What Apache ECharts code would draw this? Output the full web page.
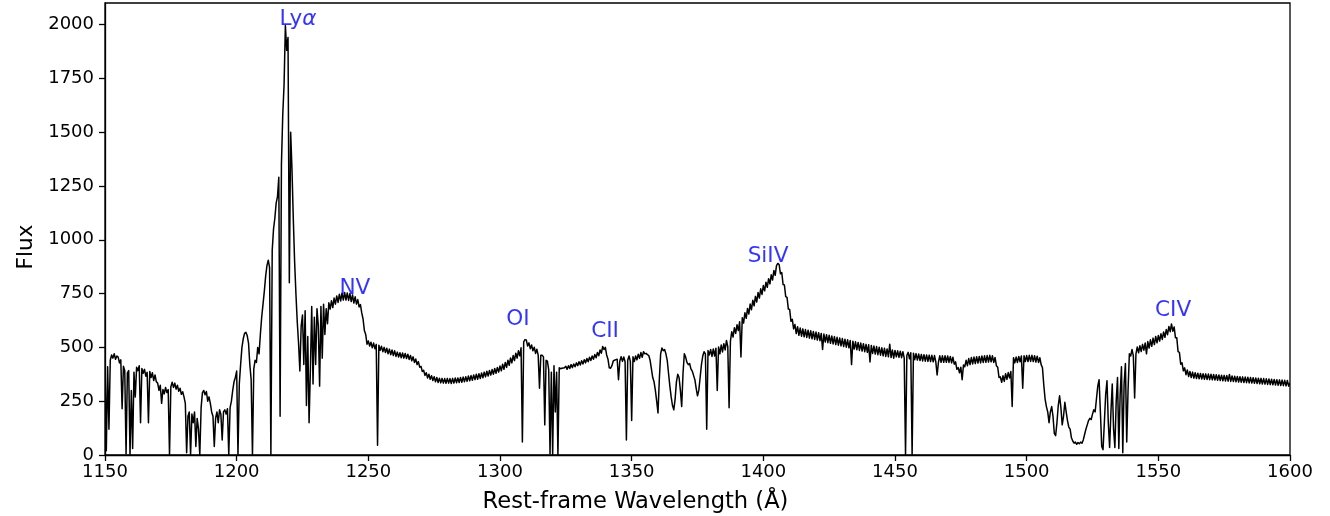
<!DOCTYPE html>
<html>
<head>
<meta charset="utf-8">
<script src="https://cdn.jsdelivr.net/npm/echarts@6/dist/echarts.min.js"></script>
<style>
  html, body { margin: 0; padding: 0; background: #fff; }
  #chart { width: 1330px; height: 516px; }
</style>
</head>
<body>
<div id="chart"></div>
<script>
// Rest-frame quasar spectrum, sampled every 0.5 Å. Each block holds 50 Å of flux.
const WAVE_STEP = 0.5;

const flux1150 = [
  430, 20, 410, 120, 440, 465, 450, 470, 445, 460,
  455, 428, 442, 215, 412, 392, 5, 382, 392, 0,
  300, 30, 384, 270, 408, 392, 415, 150, 402, 380,
  398, 366, 384, 150, 388, 360, 382, 346, 372, 340,
  334, 300, 324, 240, 304, 284, 314, 290, 304, 0,
  316, 338, 314, 334, 306, 324, 296, 310, 282, 294,
  270, 240, 10, 180, 200, 0, 190, 150, 200, 40,
  170, 120, 0, 220, 290, 300, 280, 295, 250, 270,
  240, 200, 180, 40, 170, 200, 150, 210, 190, 70,
  200, 210, 190, 215, 0, 220, 250, 300, 340, 360
];

const flux1200 = [
  390, 0, 330, 420, 500, 540, 565, 570, 555, 520,
  420, 350, 0, 400, 440, 430, 500, 470, 560, 640,
  700, 760, 830, 880, 905, 870, 0, 950, 1050, 1100,
  1170, 1200, 1290, 180, 1350, 1580, 1720, 1995, 1880, 1940,
  800, 1500, 1330, 1100, 900, 750, 620, 520, 390, 600,
  650, 420, 670, 230, 550, 150, 400, 690, 330, 640,
  420, 680, 600, 320, 690, 450, 700, 560, 680, 610,
  707, 678, 717, 685, 729, 701, 739, 709, 747, 716,
  752, 720, 755, 720, 753, 718, 750, 713, 744, 706,
  735, 701, 722, 688, 699, 660, 632, 578, 560, 515
];

const flux1250 = [
  530, 506, 524, 498, 520, 494, 514, 45, 510, 486,
  505, 480, 500, 476, 496, 470, 492, 466, 488, 462,
  484, 458, 478, 455, 475, 452, 474, 450, 472, 448,
  468, 444, 462, 438, 456, 430, 446, 420, 434, 408,
  412, 388, 394, 370, 382, 358, 375, 352, 368, 346,
  364, 340, 360, 337, 357, 335, 356, 334, 355, 333,
  356, 334, 355, 332, 356, 334, 358, 336, 358, 337,
  360, 338, 362, 340, 364, 342, 367, 345, 369, 347,
  372, 350, 375, 352, 378, 355, 381, 359, 385, 363,
  389, 367, 393, 371, 397, 375, 402, 380, 407, 385
];

const flux1300 = [
  414, 391, 422, 398, 430, 407, 440, 417, 451, 428,
  462, 439, 473, 450, 484, 461, 498, 60, 526, 536,
  534, 506, 521, 494, 511, 484, 501, 472, 491, 464,
  310, 464, 464, 456, 140, 440, 436, 395, 5, 385,
  0, 415, 200, 385, 0, 405, 401, 403, 404, 405,
  412, 398, 415, 402, 420, 406, 423, 410, 428, 415,
  433, 418, 438, 423, 443, 428, 448, 433, 454, 439,
  460, 445, 467, 452, 476, 461, 488, 473, 504, 490,
  500, 465, 445, 405, 403, 415, 437, 440, 443, 445,
  350, 437, 457, 435, 455, 433, 70, 440, 460, 435
];

const flux1350 = [
  160, 456, 434, 460, 442, 468, 449, 476, 454, 480,
  470, 472, 466, 462, 440, 400, 360, 340, 300, 250,
  195, 350, 470, 497, 485, 490, 470, 440, 380, 320,
  270, 230, 210, 260, 340, 375, 360, 300, 225, 380,
  470, 455, 430, 420, 425, 400, 390, 370, 350, 310,
  275, 300, 360, 420, 460, 480, 470, 120, 485, 465,
  490, 458, 493, 460, 496, 300, 502, 470, 511, 479,
  517, 488, 532, 503, 220, 528, 573, 548, 591, 565,
  605, 578, 619, 455, 638, 613, 661, 635, 681, 655,
  701, 675, 719, 693, 737, 711, 755, 729, 772, 746
];

const flux1400 = [
  787, 763, 803, 779, 819, 795, 837, 813, 857, 835,
  880, 890, 885, 842, 848, 792, 790, 736, 732, 678,
  676, 621, 630, 586, 606, 564, 596, 556, 590, 552,
  586, 549, 583, 546, 580, 543, 577, 540, 574, 537,
  571, 534, 568, 531, 565, 490, 562, 525, 559, 522,
  556, 519, 553, 516, 550, 513, 547, 510, 544, 507,
  541, 504, 538, 501, 535, 498, 532, 420, 529, 492,
  526, 489, 523, 486, 520, 483, 517, 480, 514, 477,
  512, 432, 509, 472, 506, 469, 504, 466, 501, 464,
  498, 461, 496, 458, 493, 456, 515, 453, 488, 450
];

const flux1450 = [
  486, 456, 484, 454, 482, 452, 480, 450, 0, 462,
  477, 447, 475, 0, 473, 443, 471, 441, 469, 439,
  467, 437, 466, 436, 465, 435, 464, 434, 463, 433,
  462, 432, 372, 431, 461, 431, 461, 431, 461, 431,
  460, 430, 458, 428, 454, 422, 433, 398, 406, 382,
  408, 350, 418, 410, 440, 415, 448, 420, 453, 423,
  455, 425, 457, 427, 458, 428, 460, 430, 461, 431,
  462, 432, 463, 433, 461, 430, 453, 415, 408, 360,
  363, 338, 368, 342, 378, 352, 383, 358, 388, 225,
  452, 428, 455, 430, 458, 433, 460, 310, 461, 434
];

const flux1500 = [
  462, 434, 463, 435, 463, 434, 461, 432, 459, 430,
  452, 420, 405, 325, 260, 225, 200, 150, 200, 225,
  180, 100, 90, 150, 230, 275, 220, 140, 180, 245,
  200, 160, 130, 120, 80, 65, 55, 60, 50, 58,
  52, 60, 55, 70, 95, 120, 140, 160, 170, 165,
  190, 210, 200, 260, 320, 350, 200, 40, 25, 150,
  280, 345, 150, 35, 200, 330, 120, 35, 250, 360,
  30, 280, 410, 10, 330, 425, 60, 300, 470, 460,
  490, 462, 265, 470, 502, 475, 508, 481, 514, 487,
  520, 470, 527, 497, 535, 505, 543, 513, 551, 521
];

const flux1550 = [
  555, 529, 563, 537, 572, 547, 583, 559, 597, 573,
  609, 575, 595, 545, 545, 480, 477, 422, 428, 391,
  405, 373, 395, 365, 388, 360, 385, 357, 382, 355,
  380, 354, 379, 353, 378, 352, 377, 351, 376, 350,
  375, 349, 374, 348, 373, 347, 372, 346, 371, 345,
  370, 344, 369, 343, 374, 342, 367, 341, 366, 340,
  365, 339, 364, 338, 363, 337, 362, 336, 361, 335,
  360, 334, 359, 333, 358, 332, 357, 331, 356, 330,
  355, 329, 354, 328, 353, 327, 352, 326, 351, 325,
  350, 324, 349, 323, 348, 322, 347, 321, 346, 320,
  335
];

const fluxBlocks = [
  [1150, flux1150], [1200, flux1200], [1250, flux1250], [1300, flux1300],
  [1350, flux1350], [1400, flux1400], [1450, flux1450], [1500, flux1500],
  [1550, flux1550]
];

// Emission line annotations (label anchor in wavelength / flux units)
const lineNames = ['Lyα', 'NV', 'OI', 'CII', 'SiIV', 'CIV'];
const lineLabelWave = [1223.3, 1244.9, 1306.8, 1339.9, 1401.8, 1555.6];
const lineLabelFlux = [2025, 776, 628, 572, 925, 674];

const xTicks = [1150, 1200, 1250, 1300, 1350, 1400, 1450, 1500, 1550, 1600];
const yTicks = [0, 250, 500, 750, 1000, 1250, 1500, 1750, 2000];

const spectrum = [];
fluxBlocks.forEach(([start, values]) => {
  values.forEach((f, i) => spectrum.push([start + i * WAVE_STEP, f]));
});

const FONT = 'DejaVu Sans';
const chart = echarts.init(document.getElementById('chart'), null, { renderer: 'canvas' });

// One polyline through every sample (no segment thinning), placed via the cartesian axes.
function renderSpectrum(params, api) {
  if (params.dataIndex !== 0) return null;
  const pts = spectrum.map(p => api.coord(p));
  return {
    type: 'polyline',
    silent: true,
    shape: { points: pts },
    style: { stroke: '#000', lineWidth: 1.5, fill: null, lineJoin: 'round' }
  };
}

chart.setOption({
  animation: false,
  backgroundColor: '#ffffff',
  grid: {
    left: 105, right: 40, top: 3, bottom: 61,
    outerBoundsMode: 'none',
    containLabel: false,
    show: true, borderColor: '#000', borderWidth: 1.3, backgroundColor: 'transparent'
  },
  xAxis: {
    type: 'value',
    min: 1150, max: 1600, interval: 50,
    name: 'Rest-frame Wavelength (Å)',
    nameLocation: 'middle',
    nameGap: 36,
    nameTextStyle: { fontFamily: FONT, fontSize: 22.6, color: '#000', padding: [0, 124, 0, 0] },
    axisLine: { show: true, lineStyle: { color: '#000', width: 1.3 } },
    axisTick: { show: true, inside: false, length: 6, lineStyle: { color: '#000', width: 1.3 }, customValues: xTicks },
    axisLabel: { fontFamily: FONT, fontSize: 18, color: '#000', margin: 8, customValues: xTicks, formatter: v => String(v) },
    splitLine: { show: false }
  },
  yAxis: {
    type: 'value',
    min: 0, max: 2100, interval: 250,
    name: 'Flux',
    nameLocation: 'middle',
    nameGap: 68,
    nameTextStyle: { fontFamily: FONT, fontSize: 21.6, color: '#000', padding: [0, 36, 0, 0] },
    axisLine: { show: true, lineStyle: { color: '#000', width: 1.3 } },
    axisTick: { show: true, inside: false, length: 6, lineStyle: { color: '#000', width: 1.3 }, customValues: yTicks },
    axisLabel: { fontFamily: FONT, fontSize: 18, color: '#000', margin: 11, customValues: yTicks, formatter: v => String(v) },
    splitLine: { show: false }
  },
  series: [
    {
      type: 'custom',
      coordinateSystem: 'cartesian2d',
      data: spectrum,
      encode: { x: 0, y: 1 },
      renderItem: renderSpectrum,
      silent: true,
      clip: true,
      z: 2
    },
    {
      type: 'scatter',
      symbolSize: 0,
      silent: true,
      z: 3,
      data: lineNames.map((n, i) => ({ name: n, value: [lineLabelWave[i], lineLabelFlux[i]] })),
      label: {
        show: true,
        position: 'inside',
        color: '#0000ff',
        fontFamily: FONT,
        fontSize: 21.6,
        formatter: p => p.name === 'Lyα' ? '{n|Ly}{g|α}' : '{n|' + p.name + '}',
        rich: {
          n: { color: '#0000ff', fontFamily: FONT, fontSize: 21.6 },
          g: { color: '#0000ff', fontFamily: FONT, fontSize: 21.6, fontStyle: 'italic' }
        }
      }
    }
  ]
});
</script>
</body>
</html>
